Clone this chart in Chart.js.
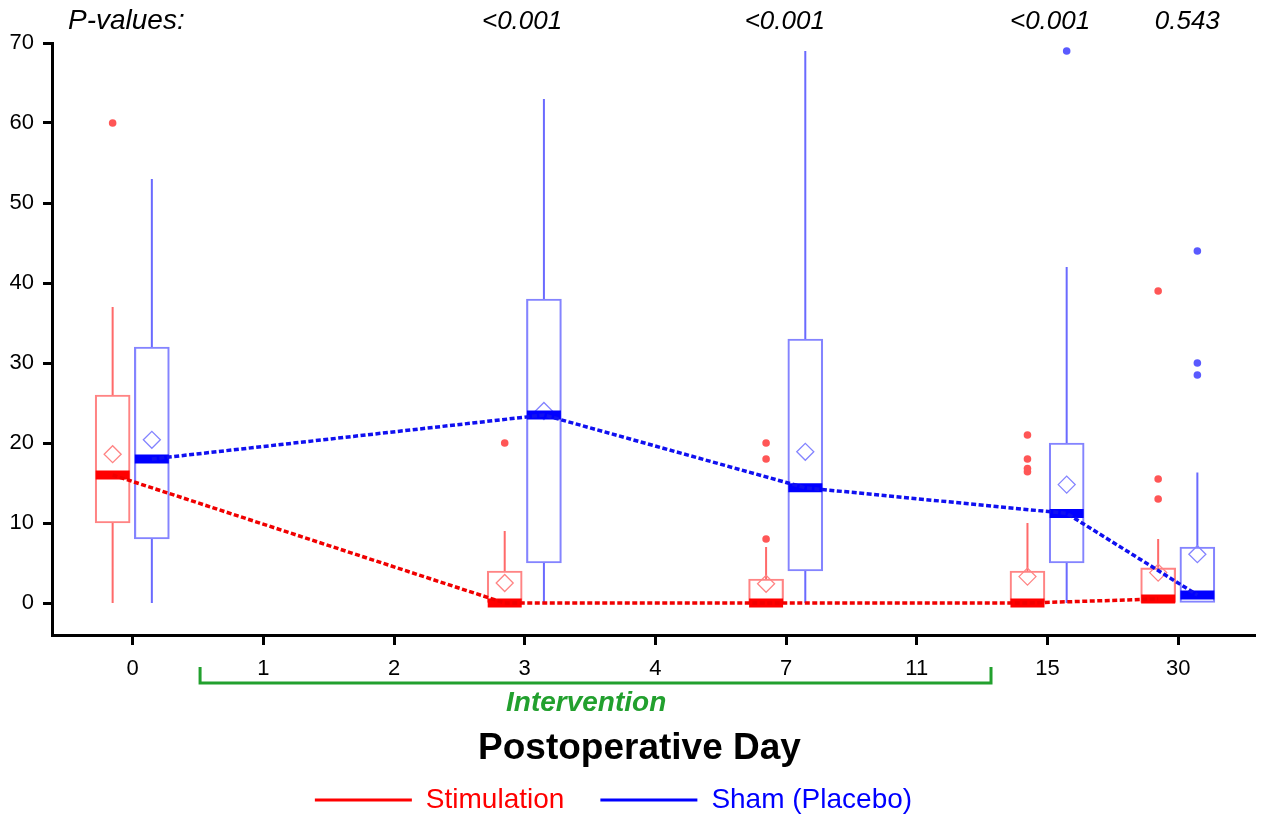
<!DOCTYPE html>
<html>
<head>
<meta charset="utf-8">
<script src="https://cdn.jsdelivr.net/npm/chart.js@4.4.1/dist/chart.umd.min.js"></script>
<style>
html,body{margin:0;padding:0;background:#fff;}
#wrap{width:1265px;height:816px;position:relative;}
</style>
</head>
<body>
<div id="wrap"><canvas id="c"></canvas></div>
<script>
// ---------- data ----------
const categories = ['0','1','2','3','4','7','11','15','30'];
const boxDays    = ['0','3','7','15','30'];

const stimMin    = [0, 0, 0, 0, 0];
const stimQ1     = [10, 0, 0, 0, 0];
const stimMedian = [16, 0, 0, 0, 0.5];
const stimQ3     = [26, 4, 3, 4, 4.4];
const stimMax    = [37, 9, 7, 10, 8];
const stimMean   = [18.6, 2.5, 2.4, 3.3, 3.8];
const stimOutliers = [[60], [20], [8, 18, 20], [16.4, 16.8, 18, 21], [13, 15.5, 39]];

const shamMin    = [0, 0, 0, 0, 0];
const shamQ1     = [8, 5, 4, 5, 0];
const shamMedian = [18, 23.5, 14.4, 11.2, 1];
const shamQ3     = [32, 38, 33, 20, 7];
const shamMax    = [53, 63, 69, 42, 16.3];
const shamMean   = [20.4, 24, 18.9, 14.8, 6.1];
const shamOutliers = [[], [], [], [69], [28.5, 30, 44]];

const yTicks = [0, 10, 20, 30, 40, 50, 60, 70];
const pValueDays = ['3', '7', '15', '30'];
const pValues = ['<0.001', '<0.001', '<0.001', '0.543'];

// ---------- styles / layout ----------
const FONT = "'Liberation Sans', Arial, Helvetica, sans-serif";
const STIM_OFFSET = -0.153, SHAM_OFFSET = 0.147;
const P_NUDGE = [-0.02, -0.01, 0.02, 0.07];
const INTERVENTION_SPAN = [0.516, 6.568];
const INTERVENTION_TEXT_AT = 3.47;
const RIGHT_GAP = 10;
const GREEN = '#22a02e';
const RED = { box: '#ff8484', whisk: '#ff6a6a', med: '#ff0000', line: '#f00000', dot: '#ff5656' };
const BLUE = { box: '#8484ff', whisk: '#6a6aff', med: '#0000ff', line: '#1010f0', dot: '#5a5aff' };

const idx = d => categories.indexOf(d);

function boxData(off, q1, q3) {
  return boxDays.map((d, i) => ({ x: idx(d) + off, y: [q1[i], q3[i]] }));
}
function whiskerData(off, mn, q1, q3, mx) {
  const pts = [];
  boxDays.forEach((d, i) => {
    const x = idx(d) + off;
    if (q1[i] > mn[i]) pts.push({ x, y: mn[i] }, { x, y: q1[i] }, { x, y: null });
    if (mx[i] > q3[i]) pts.push({ x, y: q3[i] }, { x, y: mx[i] }, { x, y: null });
  });
  return pts;
}
function pointData(off, vals) {
  return boxDays.map((d, i) => ({ x: idx(d) + off, y: vals[i] }));
}
function outlierData(off, outs) {
  const pts = [];
  boxDays.forEach((d, i) => outs[i].forEach(v => pts.push({ x: idx(d) + off, y: v })));
  return pts;
}

function groupDatasets(label, off, c, mn, q1, med, q3, mx, mean, outs) {
  return [
    { type: 'bar', label: label + ' box', data: boxData(off, q1, q3), backgroundColor: 'rgba(0,0,0,0)',
      borderColor: c.box, borderWidth: 1.5, borderSkipped: false, barThickness: 35, grouped: false, order: 5 },
    { type: 'line', label: label + ' whiskers', data: whiskerData(off, mn, q1, q3, mx), borderColor: c.whisk,
      borderWidth: 2, pointRadius: 0, spanGaps: false, order: 4 },
    { type: 'scatter', label: label + ' mean', data: pointData(off, mean), pointStyle: 'rectRot', pointRadius: 8.5,
      backgroundColor: 'rgba(0,0,0,0)', borderColor: c.box, borderWidth: 1.3, order: 3 },
    { type: 'scatter', label: label + ' outliers', data: outlierData(off, outs), pointStyle: 'circle', pointRadius: 3.8,
      backgroundColor: c.dot, borderWidth: 0, order: 2 },
    { type: 'scatter', label: label + ' median', data: pointData(off, med), pointStyle: 'line', pointRadius: 17,
      borderColor: c.med, borderWidth: 9, order: 1 },
    { type: 'line', label: label + ' trend', data: pointData(off, med), borderColor: c.line, borderWidth: 3.5,
      borderDash: [5, 2.5], pointRadius: 0, order: 0 }
  ];
}

const datasets = [
  ...groupDatasets('Stimulation', STIM_OFFSET, RED, stimMin, stimQ1, stimMedian, stimQ3, stimMax, stimMean, stimOutliers),
  ...groupDatasets('Sham (Placebo)', SHAM_OFFSET, BLUE, shamMin, shamQ1, shamMedian, shamQ3, shamMax, shamMean, shamOutliers)
];

// keep the plot area extending to the right edge (minus a small gap)
const fixArea = {
  id: 'fixArea',
  afterLayout(chart) {
    const target = chart.width - RIGHT_GAP;
    const ca = chart.chartArea;
    const x = chart.scales.x;
    if (ca.right !== target) {
      ca.right = target;
      ca.width = ca.right - ca.left;
      x.right = target;
      x.width = target - x.left;
      x.configure();
    }
  }
};

const annotations = {
  id: 'annotations',
  afterDraw(chart) {
    const { ctx, chartArea, scales: { x } } = chart;
    ctx.save();
    ctx.textBaseline = 'alphabetic';
    ctx.fillStyle = '#000';
    ctx.font = `italic 28px ${FONT}`;
    ctx.textAlign = 'left';
    ctx.fillText('P-values:', chartArea.left + 16, 29);
    ctx.font = `italic 26px ${FONT}`;
    ctx.textAlign = 'center';
    pValueDays.forEach((d, i) => ctx.fillText(pValues[i], x.getPixelForValue(idx(d) + P_NUDGE[i]), 29));

    const b = chartArea.bottom;
    const x0 = x.getPixelForValue(INTERVENTION_SPAN[0]);
    const x1 = x.getPixelForValue(INTERVENTION_SPAN[1]);
    ctx.strokeStyle = GREEN;
    ctx.lineWidth = 3;
    ctx.beginPath();
    ctx.moveTo(x0, b + 32); ctx.lineTo(x0, b + 48); ctx.lineTo(x1, b + 48); ctx.lineTo(x1, b + 32);
    ctx.stroke();
    ctx.fillStyle = GREEN;
    ctx.font = `bold italic 28px ${FONT}`;
    ctx.fillText('Intervention', x.getPixelForValue(INTERVENTION_TEXT_AT), b + 76);

    ctx.fillStyle = '#000';
    ctx.font = `bold 37px ${FONT}`;
    ctx.fillText('Postoperative Day', (chartArea.left + chartArea.right) / 2 - 14, b + 124);
    ctx.restore();
  }
};

new Chart(document.getElementById('c'), {
  type: 'scatter',
  data: { datasets },
  plugins: [fixArea, annotations],
  options: {
    responsive: true,
    maintainAspectRatio: false,
    devicePixelRatio: 1,
    animation: false,
    events: [],
    layout: { padding: { top: 43, right: -6, left: -44, bottom: -8 } },
    scales: {
      x: {
        type: 'linear', min: -0.617, max: 8.588, offset: false,
        afterBuildTicks: s => { s.ticks = categories.map((_, i) => ({ value: i })); },
        afterFit: s => { s.height = 115; s.paddingLeft = 0; s.paddingRight = 0; },
        ticks: { callback: v => categories[v], color: '#000', font: { family: FONT, size: 22 }, padding: 11, maxRotation: 0, autoSkip: false },
        grid: { offset: false, drawOnChartArea: false, drawTicks: true, tickLength: 10, tickWidth: 3, tickColor: '#000' },
        border: { display: true, color: '#000', width: 3 }
      },
      y: {
        type: 'linear', min: -4, max: 70,
        afterBuildTicks: s => { s.ticks = yTicks.map(v => ({ value: v })); },
        afterFit: s => { s.width = 96; },
        ticks: { color: '#000', font: { family: FONT, size: 22 }, padding: 9 },
        grid: { drawOnChartArea: false, drawTicks: true, tickLength: 9, tickWidth: 3, tickColor: '#000' },
        border: { display: true, color: '#000', width: 3 }
      }
    },
    plugins: {
      tooltip: { enabled: false },
      legend: {
        display: true,
        position: 'bottom',
        labels: {
          font: { family: FONT, size: 28 },
          boxWidth: 97, boxHeight: 3, padding: 36,
          generateLabels: () => [
            { text: 'Stimulation', fillStyle: RED.med, strokeStyle: RED.med, lineWidth: 0, fontColor: RED.med, hidden: false, datasetIndex: 0 },
            { text: 'Sham (Placebo)', fillStyle: BLUE.med, strokeStyle: BLUE.med, lineWidth: 0, fontColor: BLUE.med, hidden: false, datasetIndex: 6 }
          ]
        }
      }
    }
  }
});
</script>
</body>
</html>
